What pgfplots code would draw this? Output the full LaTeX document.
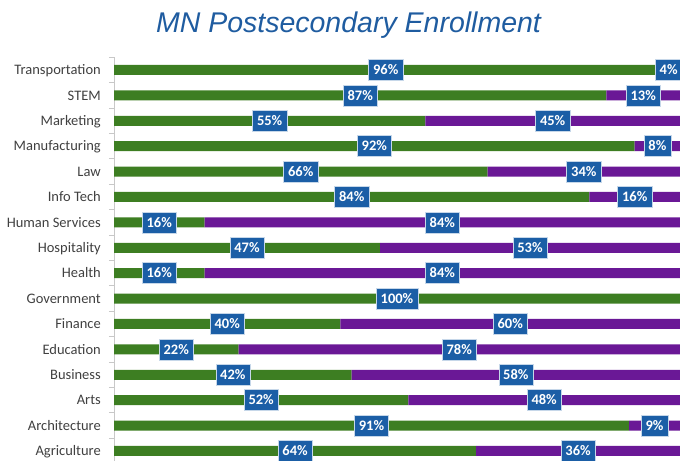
\documentclass[border=0pt]{standalone}
\usepackage{pgfplots}
\pgfplotsset{compat=1.18}
\usepackage{pgfplotstable}
\usepackage{fontspec}
\setmainfont{Carlito}
\newfontfamily\titlefont{Liberation Sans}
\definecolor{bargreen}{RGB}{61,126,34}
\definecolor{barpurple}{RGB}{106,24,150}
\definecolor{boxblue}{RGB}{27,94,166}
\definecolor{titleblue}{RGB}{31,92,160}
\definecolor{labgray}{RGB}{64,64,64}
\definecolor{axgray}{RGB}{200,200,200}

\pgfplotstableread{
cat green purple
0 64 36
1 91 9
2 52 48
3 42 58
4 22 78
5 40 60
6 100 0
7 16 84
8 47 53
9 16 84
10 84 16
11 66 34
12 92 8
13 55 45
14 87 13
15 96 4
}\datatable

\begin{document}
\begin{tikzpicture}
\useasboundingbox (0,0) rectangle (680bp,461bp);
\begin{axis}[
  at={(114bp,-2.7bp)}, anchor=south west,
  width=566bp, height=406.4bp, scale only axis,
  xmin=0, xmax=100, ymin=-0.5, ymax=15.5,
  enlargelimits=false, clip=false,
  axis x line=none,
  axis y line*=left,
  y axis line style={axgray, line width=0.8bp},
  ytick={0,...,15},
  yticklabels={Agriculture,Architecture,Arts,Business,Education,Finance,Government,Health,Hospitality,Human Services,Info Tech,Law,Manufacturing,Marketing,STEM,Transportation},
  minor ytick={-0.5,0.5,...,15.5},
  major tick length=0pt,
  minor tick length=5bp,
  tick align=outside,
  minor tick style={axgray, line width=0.8bp},
  yticklabel style={font=\fontsize{14.5bp}{16bp}\selectfont, text=labgray, inner sep=0pt, xshift=-13bp, text height=9.3bp, text depth=0pt},
  bar width=10bp,
]
\addplot[xbar stacked, fill=bargreen, draw=none] table[x=green, y=cat] {\datatable};
\addplot[xbar stacked, fill=barpurple, draw=none] table[x=purple, y=cat] {\datatable};
\pgfplotsset{
  lab/.style={draw=none, mark=none, stack plots=false, nodes near coords={\pgfmathprintnumber[fixed,precision=0,assume math mode=true]{\pgfplotspointmeta}\%},
    every node near coord/.append style={anchor=center, fill=boxblue, draw=white!75!boxblue, line width=0.4bp, text=white,
      font=\fontsize{14.5bp}{16bp}\selectfont\bfseries, inner xsep=4.5bp, text height=9.4bp, text depth=0pt, minimum height=21bp}}
}
\addplot[lab, point meta=explicit] table[x expr=\thisrow{green}/2, y=cat, meta=green] {\datatable};
\addplot[lab, point meta=explicit, skip coords between index={6}{7}] table[x expr=\thisrow{green}+\thisrow{purple}/2, y=cat, meta=purple] {\datatable};
\end{axis}
\node[anchor=base, text=titleblue, font=\titlefont\itshape\fontsize{28.5bp}{32bp}\selectfont] at (348.5bp,428bp) {MN Postsecondary Enrollment};
\end{tikzpicture}
\end{document}
